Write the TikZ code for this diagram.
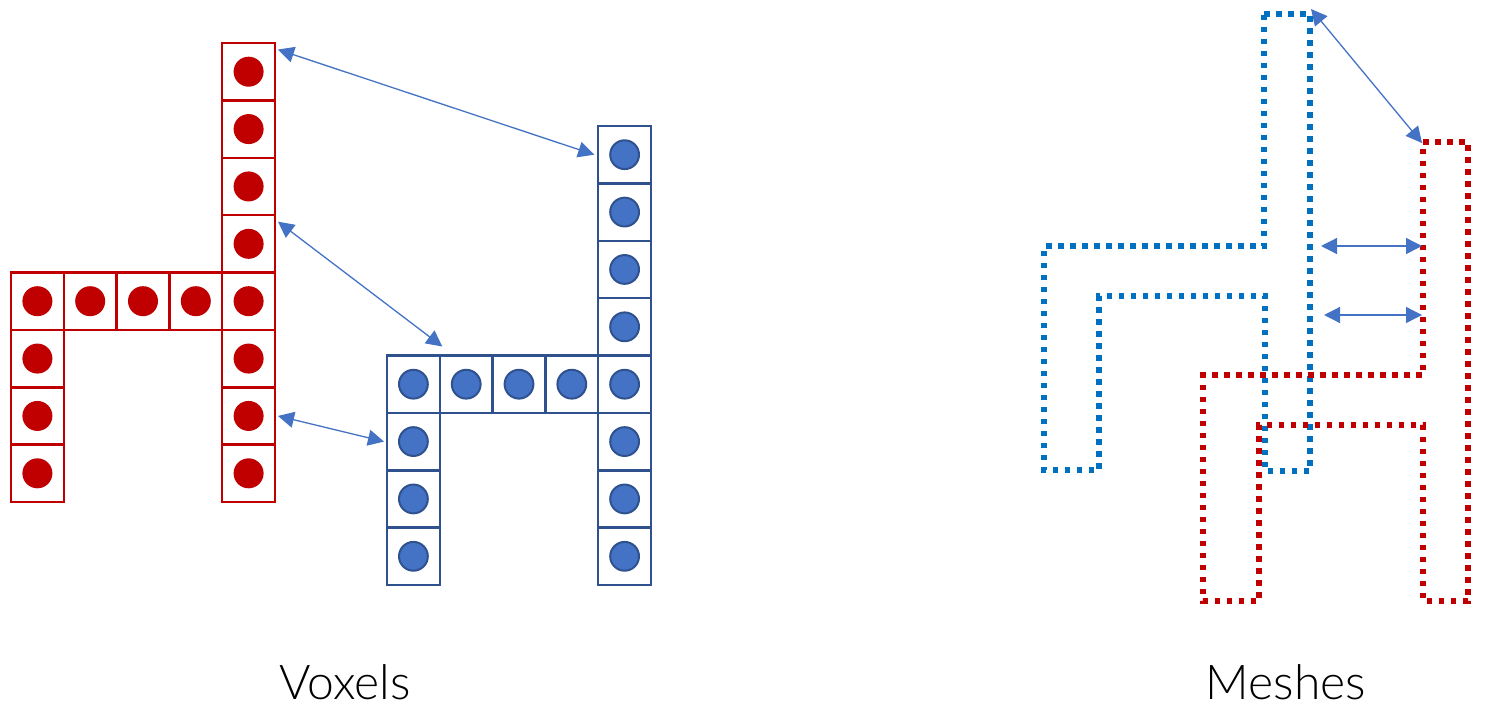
\documentclass[tikz,border=0pt]{standalone}
\usepackage{fontspec}
\newfontfamily\lblfont{Lato}[UprightFont={* Light}]
\usetikzlibrary{arrows.meta,calc}
\definecolor{vred}{HTML}{C00000}
\definecolor{vblue}{HTML}{4472C4}
\definecolor{vbluedark}{HTML}{2F528F}
\definecolor{mblue}{HTML}{0070C0}

% One H-like voxel shape: #1 name prefix, #2/#3 offset, #4 cell style
\newcommand{\voxelshape}[4]{%
  \foreach \i in {1,...,8}
    \node[#4] (#1c\i) at ({#2+248.6},{#3+43+57.375*(\i-0.5)}) {};
  \foreach \j in {1,...,4}
    \node[#4] (#1b\j) at ({#2+37.4+52.8*(\j-1)},{#3+43+57.375*4.5}) {};
  \foreach \i in {6,7,8}
    \node[#4] (#1l\i) at ({#2+37.4},{#3+43+57.375*(\i-0.5)}) {};
}

\begin{document}
\begin{tikzpicture}[x=0.5pt,y=-0.5pt,
  vcell/.style={draw, line width=1.25pt, minimum width=26.4pt,
    minimum height=28.69pt, inner sep=0pt, outer sep=0pt},
  redcell/.style={vcell, draw=vred,
    path picture={\fill[vred] (path picture bounding box.center) circle (7.5pt);}},
  bluecell/.style={vcell, draw=vbluedark,
    path picture={\filldraw[fill=vblue, draw=vbluedark, line width=1pt]
      (path picture bounding box.center) circle (7.2pt);}},
  link/.style={draw=vblue, line width=0.65pt,
    {Triangle[length=8pt,width=8pt]}-{Triangle[length=8pt,width=8pt]}},
  meshline/.style={line width=2.75pt, dash pattern=on 2.75pt off 3.25pt},
  txtlabel/.style={font=\lblfont\fontsize{24}{28}\selectfont, anchor=base, inner sep=0pt}
]
\useasboundingbox (0,0) rectangle (1486,707);

% voxel grids
\voxelshape{r}{0}{0}{redcell}
\voxelshape{b}{376}{83}{bluecell}

% voxel correspondences
\draw[link] ([xshift=1.5pt]rc1.40) -- ([xshift=-2pt]bc1.west);
\draw[link] ([xshift=1.5pt]rc4.40) -- ([shift={(1.25pt,4.5pt)}]bb1.north east);
\draw[link] ([xshift=1.5pt]rc7.east) -- ([xshift=-1.5pt]bl6.west);

% mesh outlines
\draw[meshline, mblue] (1264,14) coordinate (bmtl) -- (1310,14) coordinate (bmtr)
  -- (1310,471) -- (1265,471) -- (1265,296) -- (1099,296) -- (1099,470)
  -- (1044,470) -- (1044,246) -- (1264,246) -- cycle;
\draw[meshline, vred] (1423,142) coordinate (rmtl) -- (1468,142) -- (1468,601)
  -- (1423,601) -- (1423,425) -- (1259,425) -- (1259,601) -- (1203,601)
  -- (1203,375) -- (1423,375) -- cycle;

% mesh correspondences
\coordinate (m1a) at (1311,9);
\coordinate (m1b) at (1422,143);
\coordinate (m2a) at (1321,246);
\coordinate (m2b) at (1422,246);
\coordinate (m3a) at (1324,315);
\coordinate (m3b) at (1422,315);
\draw[link] (m1a) -- (m1b);
\draw[link] (m2a) -- (m2b);
\draw[link] (m3a) -- (m3b);

% captions
\node[txtlabel] (voxlbl) at (345,699) {Voxels};
\node[txtlabel] (meshlbl) at (1286,699) {Meshes};
\end{tikzpicture}
\end{document}
